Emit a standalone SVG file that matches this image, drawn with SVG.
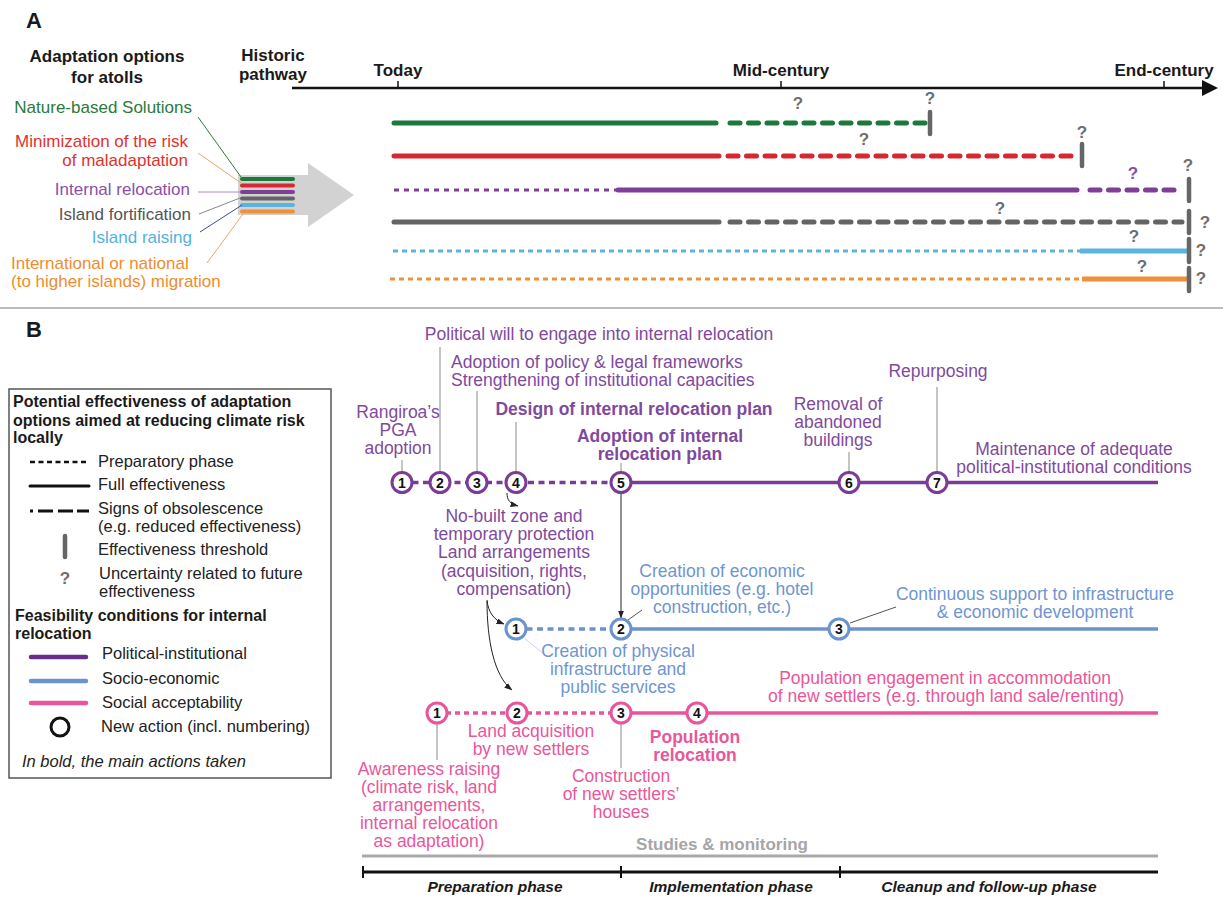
<svg xmlns="http://www.w3.org/2000/svg" width="1223" height="898" viewBox="0 0 1223 898">
<defs>
<marker id="ah" markerWidth="8" markerHeight="6" refX="7.5" refY="3" orient="auto" markerUnits="userSpaceOnUse"><path d="M0,0 L8,3 L0,6 z" fill="#222"/></marker>
<style>
text{font-family:"Liberation Sans",Arial,sans-serif;}
.hd{font-weight:bold;font-size:17px;fill:#1a1a1a;}
.lab{font-size:17px;}
.q{font-weight:bold;font-size:17px;fill:#6d6e70;text-anchor:middle;}
.ln{fill:none;stroke-linecap:round;}
.sol{stroke-width:5;}
.obs{stroke-width:5;stroke-dasharray:10 8.5;}
.prep{stroke-width:3;stroke-dasharray:5 5;stroke-linecap:butt;}
.thr{stroke:#666;stroke-width:4.5;stroke-linecap:round;}
.b{font-size:17.5px;text-anchor:middle;}
.pu{fill:#7f4a9e;}
.bl{fill:#6f95d1;}
.pk{fill:#e9579a;}
.bold{font-weight:bold;}
.lead{stroke:#8a8a8a;stroke-width:1;fill:none;}
.arr{stroke:#222;stroke-width:1;fill:none;marker-end:url(#ah);}
.circ{fill:#fff;stroke-width:3;}
.num{font-weight:bold;font-size:14px;fill:#111;text-anchor:middle;}
.leg{font-size:16.5px;fill:#222;}
.legb{font-size:16px;font-weight:bold;fill:#1a1a1a;}
.ph{font-size:15.5px;font-weight:bold;font-style:italic;fill:#1a1a1a;text-anchor:middle;}
</style>
</defs>
<rect width="1223" height="898" fill="#fff"/>

<!-- Panel A -->
<g id="panelA-title"><text x="26" y="28" font-size="22" font-weight="bold" fill="#1a1a1a">A</text></g>
<g id="header-options"><text class="hd" x="107" y="62" text-anchor="middle">Adaptation options</text><text class="hd" x="107" y="83" text-anchor="middle">for atolls</text></g>
<g id="header-historic"><text class="hd" x="273" y="61" text-anchor="middle">Historic</text><text class="hd" x="273" y="80" text-anchor="middle">pathway</text></g>

<g id="time-axis">
<line x1="292" y1="88" x2="1204" y2="88" stroke="#111" stroke-width="2.5"/>
<polygon points="1202,80 1218,88 1202,96" fill="#111"/>
<line x1="398" y1="81" x2="398" y2="88" stroke="#111" stroke-width="1.5"/>
<line x1="781" y1="81" x2="781" y2="88" stroke="#111" stroke-width="1.5"/>
<line x1="1164" y1="81" x2="1164" y2="88" stroke="#111" stroke-width="1.5"/>
<text class="hd" x="398" y="76" text-anchor="middle">Today</text>
<text class="hd" x="781" y="76" text-anchor="middle">Mid-century</text>
<text class="hd" x="1164" y="76" text-anchor="middle">End-century</text>
</g>

<g id="historic-arrow">
<polygon points="238,175 308,175 308,163 354,195 308,227 308,215 238,215" fill="#d2d2d2"/>
<g stroke-width="4" stroke-linecap="round">
<line x1="242" y1="179" x2="293" y2="179" stroke="#1b7a3b"/>
<line x1="242" y1="185.5" x2="293" y2="185.5" stroke="#d7282f"/>
<line x1="242" y1="192" x2="293" y2="192" stroke="#7f3f98"/>
<line x1="242" y1="198.5" x2="293" y2="198.5" stroke="#646464"/>
<line x1="242" y1="205" x2="293" y2="205" stroke="#5bb3e0"/>
<line x1="242" y1="211.5" x2="293" y2="211.5" stroke="#f0903a"/>
</g>
</g>

<g id="opt-nbs"><text class="lab" x="192" y="113" text-anchor="end" fill="#2a7a3a">Nature-based Solutions</text></g>
<g id="opt-malad"><text class="lab" x="188" y="147" text-anchor="end" fill="#e0332f">Minimization of the risk</text><text class="lab" x="188" y="166" text-anchor="end" fill="#e0332f">of maladaptation</text></g>
<g id="opt-internal"><text class="lab" x="190" y="195" text-anchor="end" fill="#8a4fa5">Internal relocation</text></g>
<g id="opt-fort"><text class="lab" x="191" y="220" text-anchor="end" fill="#555">Island fortification</text></g>
<g id="opt-raise"><text class="lab" x="192" y="243" text-anchor="end" fill="#56b0e0">Island raising</text></g>
<g id="opt-migr"><text class="lab" x="11" y="269" fill="#f08c2e">International or national</text><text class="lab" x="11" y="287" fill="#f08c2e">(to higher islands) migration</text></g>

<g id="pathways">
<line class="ln sol" x1="394" y1="123" x2="716" y2="123" stroke="#1b7a3b"/>
<line class="ln obs" x1="730" y1="123" x2="925" y2="123" stroke="#1b7a3b"/>
<line class="thr" x1="930" y1="112" x2="930" y2="134"/>
<text class="q" x="798" y="109">?</text><text class="q" x="930" y="104">?</text>

<line class="ln sol" x1="394" y1="156" x2="719" y2="156" stroke="#d7282f"/>
<line class="ln obs" x1="728" y1="156" x2="1076" y2="156" stroke="#d7282f"/>
<line class="thr" x1="1082" y1="144" x2="1082" y2="166"/>
<text class="q" x="864" y="145">?</text><text class="q" x="1082" y="138">?</text>

<line class="ln prep" x1="394" y1="190" x2="618" y2="190" stroke="#7f3f98"/>
<line class="ln sol" x1="618" y1="190" x2="1077" y2="190" stroke="#7f3f98"/>
<line class="ln obs" x1="1090" y1="190" x2="1182" y2="190" stroke="#7f3f98"/>
<line class="thr" x1="1189" y1="179" x2="1189" y2="201"/>
<text class="q" x="1133" y="179" style="fill:#8a4fa5">?</text><text class="q" x="1188" y="171">?</text>

<line class="ln sol" x1="394" y1="222" x2="719" y2="222" stroke="#646464"/>
<line class="ln obs" x1="730" y1="222" x2="1182" y2="222" stroke="#646464"/>
<line class="thr" x1="1189" y1="211" x2="1189" y2="233"/>
<text class="q" x="1000" y="214">?</text><text class="q" x="1205" y="228">?</text>

<line class="ln prep" x1="393" y1="251" x2="1080" y2="251" stroke="#5bb3e0" style="stroke-dasharray:5 4"/>
<line class="ln sol" x1="1080" y1="251" x2="1187" y2="251" stroke="#5bb3e0" style="stroke-linecap:butt"/>
<line class="thr" x1="1189" y1="239" x2="1189" y2="262"/>
<text class="q" x="1134" y="242">?</text><text class="q" x="1201" y="256">?</text>

<line class="ln prep" x1="390" y1="279" x2="1082" y2="279" stroke="#f0903a" style="stroke-dasharray:5 4"/>
<line class="ln sol" x1="1082" y1="279" x2="1187" y2="279" stroke="#f0903a" style="stroke-linecap:butt"/>
<line class="thr" x1="1189" y1="268" x2="1189" y2="291"/>
<text class="q" x="1142" y="272">?</text><text class="q" x="1201" y="284">?</text>
</g>

<line x1="0" y1="308" x2="1223" y2="308" stroke="#bdbdbd" stroke-width="2"/>

<!-- Panel B -->
<g id="panelB-title"><text x="26" y="337" font-size="22" font-weight="bold" fill="#1a1a1a">B</text></g>

<g id="legend">
<rect x="9" y="389" width="322" height="389" fill="#fff" stroke="#555" stroke-width="1.5"/>
<text class="legb" x="13" y="407">Potential effectiveness of adaptation</text>
<text class="legb" x="13" y="426">options aimed at reducing climate risk</text>
<text class="legb" x="13" y="443">locally</text>
<line x1="30" y1="462" x2="89" y2="462" stroke="#111" stroke-width="2.5" stroke-dasharray="5 3.5"/>
<text class="leg" x="98" y="467">Preparatory phase</text>
<line x1="30" y1="486" x2="89" y2="486" stroke="#111" stroke-width="3" stroke-linecap="round"/>
<text class="leg" x="98" y="490">Full effectiveness</text>
<line x1="30" y1="511" x2="89" y2="511" stroke="#111" stroke-width="3" stroke-dasharray="3 5 15 5 15 4 12"/>
<text class="leg" x="98" y="514">Signs of obsolescence</text>
<text class="leg" x="98" y="532">(e.g. reduced effectiveness)</text>
<line class="thr" x1="65" y1="536" x2="65" y2="557"/>
<text class="leg" x="98" y="555">Effectiveness threshold</text>
<text class="q" x="65" y="584">?</text>
<text class="leg" x="99" y="579">Uncertainty related to future</text>
<text class="leg" x="99" y="597">effectiveness</text>
<text class="legb" x="15" y="621">Feasibility conditions for internal</text>
<text class="legb" x="15" y="639">relocation</text>
<line x1="31" y1="657" x2="86" y2="657" stroke="#6b2d8a" stroke-width="4.5" stroke-linecap="round"/>
<text class="leg" x="102" y="659">Political-institutional</text>
<line x1="31" y1="681" x2="86" y2="681" stroke="#6b93d0" stroke-width="4.5" stroke-linecap="round"/>
<text class="leg" x="102" y="684">Socio-economic</text>
<line x1="31" y1="703" x2="86" y2="703" stroke="#e9559a" stroke-width="4.5" stroke-linecap="round"/>
<text class="leg" x="102" y="708">Social acceptability</text>
<circle cx="60" cy="727" r="9" fill="#fff" stroke="#111" stroke-width="3"/>
<text class="leg" x="101" y="732">New action (incl. numbering)</text>
<text class="leg" x="22" y="767" font-style="italic">In bold, the main actions taken</text>
</g>

<g id="connectors">
<line class="lead" x1="198" y1="117" x2="241" y2="177" style="stroke:#2a7a3a"/>
<line class="lead" x1="198" y1="153" x2="241" y2="183" style="stroke:#f2a365"/>
<line class="lead" x1="198" y1="192" x2="240" y2="192" style="stroke:#b48cc8"/>
<line class="lead" x1="199" y1="214" x2="240" y2="198" style="stroke:#888"/>
<line class="lead" x1="200" y1="232" x2="242" y2="205" style="stroke:#3a4aa0"/>
<line class="lead" x1="207" y1="263" x2="243" y2="214" style="stroke:#f2a365"/>

<line class="lead" x1="402" y1="460" x2="402" y2="472"/>
<line class="lead" x1="440" y1="347" x2="440" y2="472"/>
<line class="lead" x1="477" y1="391" x2="477" y2="472"/>
<line class="lead" x1="516" y1="422" x2="516" y2="472"/>
<line class="lead" x1="621" y1="463" x2="621" y2="472"/>
<line class="lead" x1="849" y1="452" x2="849" y2="473"/>
<line class="lead" x1="937" y1="387" x2="937" y2="473"/>
<line class="lead" x1="628" y1="620" x2="642" y2="610" style="stroke:#555"/>
<line class="lead" x1="525" y1="639" x2="543" y2="653" style="stroke:#c8d4ee"/>
<line class="lead" x1="850" y1="623" x2="896" y2="607" style="stroke:#555"/>
<line class="lead" x1="437" y1="723" x2="437" y2="760"/>
<line class="lead" x1="621" y1="723" x2="621" y2="768"/>

<path class="arr" d="M507,493 C507,500 510,504 518,506"/>
<line class="arr" x1="621" y1="493" x2="621" y2="618"/>
<path class="arr" d="M487,600 C488,612 494,620 504,624"/>
<path class="arr" d="M487,601 C487,640 494,676 512,690"/>
</g>

<g id="track-political">
<line x1="402" y1="482.5" x2="621" y2="482.5" stroke="#7a3c96" stroke-width="3.5" stroke-dasharray="6 4.5"/>
<line x1="621" y1="482.5" x2="1158" y2="482.5" stroke="#7a3c96" stroke-width="3.5"/>
</g>
<g id="track-socio">
<line x1="516" y1="629" x2="621" y2="629" stroke="#6b93d0" stroke-width="3.5" stroke-dasharray="6 4.5"/>
<line x1="621" y1="629" x2="1158" y2="629" stroke="#6b93d0" stroke-width="3.5"/>
</g>
<g id="track-social">
<line x1="437" y1="713" x2="621" y2="713" stroke="#e9559a" stroke-width="3.5" stroke-dasharray="5 4"/>
<line x1="621" y1="713" x2="1158" y2="713" stroke="#e9559a" stroke-width="3.5"/>
</g>

<g id="p1"><circle class="circ" cx="402" cy="482.5" r="10" stroke="#7a3c96"/><text class="num" x="402" y="487.5">1</text>
<text class="b pu" x="398" y="418">Rangiroa’s</text><text class="b pu" x="398" y="436">PGA</text><text class="b pu" x="398" y="454">adoption</text></g>
<g id="p2"><circle class="circ" cx="440" cy="482.5" r="10" stroke="#7a3c96"/><text class="num" x="440" y="487.5">2</text>
<text class="b pu" x="599" y="340">Political will to engage into internal relocation</text></g>
<g id="p3"><circle class="circ" cx="477" cy="482.5" r="10" stroke="#7a3c96"/><text class="num" x="477" y="487.5">3</text>
<text class="b pu" x="451" y="368" style="text-anchor:start">Adoption of policy &amp; legal frameworks</text>
<text class="b pu" x="451" y="386" style="text-anchor:start">Strengthening of institutional capacities</text></g>
<g id="p4"><circle class="circ" cx="516" cy="482.5" r="10" stroke="#7a3c96"/><text class="num" x="516" y="487.5">4</text>
<text class="b pu bold" x="634" y="415">Design of internal relocation plan</text>
<text class="b pu" x="514" y="522">No-built zone and</text><text class="b pu" x="514" y="540">temporary protection</text><text class="b pu" x="514" y="558">Land arrangements</text><text class="b pu" x="514" y="577">(acquisition, rights,</text><text class="b pu" x="514" y="595">compensation)</text></g>
<g id="p5"><circle class="circ" cx="621" cy="482.5" r="10" stroke="#7a3c96"/><text class="num" x="621" y="487.5">5</text>
<text class="b pu bold" x="660" y="442">Adoption of internal</text><text class="b pu bold" x="660" y="460">relocation plan</text></g>
<g id="p6"><circle class="circ" cx="849" cy="482.5" r="10" stroke="#7a3c96"/><text class="num" x="849" y="487.5">6</text>
<text class="b pu" x="838" y="410">Removal of</text><text class="b pu" x="838" y="428">abandoned</text><text class="b pu" x="838" y="446">buildings</text></g>
<g id="p7"><circle class="circ" cx="937" cy="482.5" r="10" stroke="#7a3c96"/><text class="num" x="937" y="487.5">7</text>
<text class="b pu" x="938" y="377">Repurposing</text></g>
<g id="p-maint"><text class="b pu" x="1074" y="455">Maintenance of adequate</text><text class="b pu" x="1074" y="473">political-institutional conditions</text></g>

<g id="s1"><circle class="circ" cx="516" cy="629" r="10" stroke="#6b93d0"/><text class="num" x="516" y="634">1</text>
<text class="b bl" x="618" y="657">Creation of physical</text><text class="b bl" x="618" y="675">infrastructure and</text><text class="b bl" x="618" y="693">public services</text></g>
<g id="s2"><circle class="circ" cx="621" cy="629" r="10" stroke="#6b93d0"/><text class="num" x="621" y="634">2</text>
<text class="b bl" x="722" y="577">Creation of economic</text><text class="b bl" x="722" y="595">opportunities (e.g. hotel</text><text class="b bl" x="722" y="613">construction, etc.)</text></g>
<g id="s3"><circle class="circ" cx="839" cy="629" r="10" stroke="#6b93d0"/><text class="num" x="839" y="634">3</text>
<text class="b bl" x="1035" y="600">Continuous support to infrastructure</text><text class="b bl" x="1035" y="618">&amp; economic development</text></g>

<g id="a1"><circle class="circ" cx="437" cy="713" r="10" stroke="#e9559a"/><text class="num" x="437" y="718">1</text>
<text class="b pk" x="429" y="775">Awareness raising</text><text class="b pk" x="429" y="793">(climate risk, land</text><text class="b pk" x="429" y="811">arrangements,</text><text class="b pk" x="429" y="829">internal relocation</text><text class="b pk" x="429" y="847">as adaptation)</text></g>
<g id="a2"><circle class="circ" cx="517" cy="713" r="10" stroke="#e9559a"/><text class="num" x="517" y="718">2</text>
<text class="b pk" x="531" y="737">Land acquisition</text><text class="b pk" x="531" y="755">by new settlers</text></g>
<g id="a3"><circle class="circ" cx="621" cy="713" r="10" stroke="#e9559a"/><text class="num" x="621" y="718">3</text>
<text class="b pk" x="621" y="782">Construction</text><text class="b pk" x="621" y="800">of  new settlers’</text><text class="b pk" x="621" y="818">houses</text></g>
<g id="a4"><circle class="circ" cx="697" cy="713" r="10" stroke="#e9559a"/><text class="num" x="697" y="718">4</text>
<text class="b pk bold" x="695" y="743">Population</text><text class="b pk bold" x="695" y="761">relocation</text></g>
<g id="a-engage"><text class="b pk" x="945" y="684">Population engagement in accommodation</text><text class="b pk" x="946" y="702">of new settlers (e.g. through land sale/renting)</text></g>

<g id="studies">
<text x="722" y="850" font-size="17" font-weight="bold" fill="#a6a6a6" text-anchor="middle">Studies &amp; monitoring</text>
<line x1="362" y1="856" x2="1158" y2="856" stroke="#a9a9a9" stroke-width="3"/>
</g>
<g id="phases">
<line x1="362" y1="872" x2="1158" y2="872" stroke="#111" stroke-width="3"/>
<line x1="363" y1="866" x2="363" y2="878" stroke="#111" stroke-width="2"/>
<line x1="621" y1="866" x2="621" y2="878" stroke="#111" stroke-width="2"/>
<line x1="840" y1="866" x2="840" y2="878" stroke="#111" stroke-width="2"/>
<text class="ph" x="495" y="892">Preparation phase</text>
<text class="ph" x="731" y="892">Implementation phase</text>
<text class="ph" x="989" y="892">Cleanup and follow-up phase</text>
</g>
</svg>
